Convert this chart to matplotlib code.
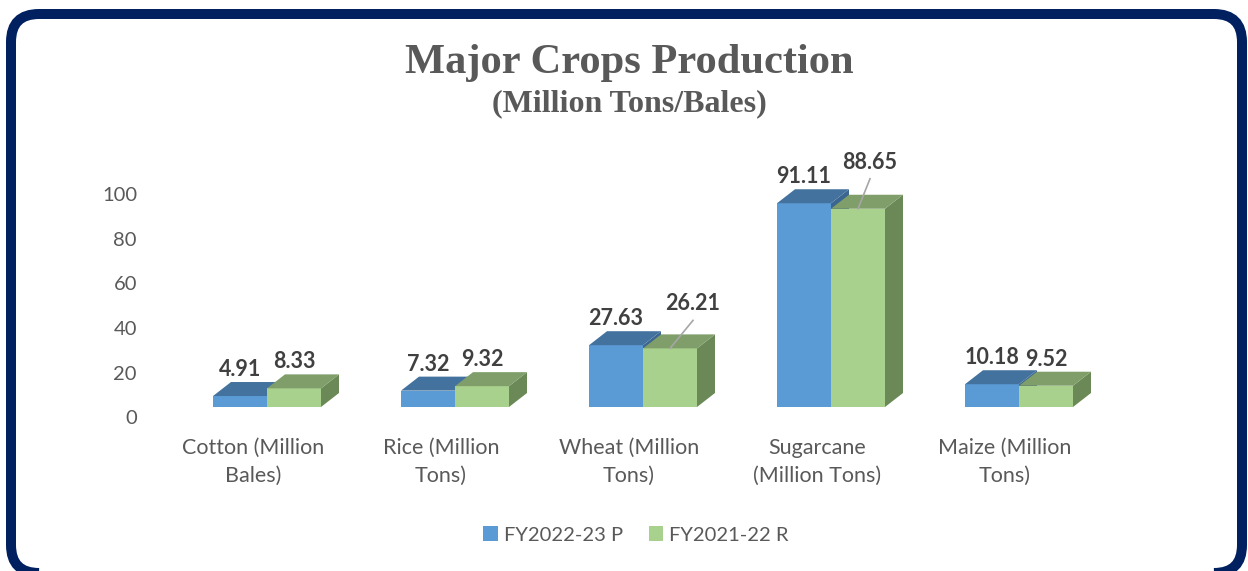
import matplotlib
matplotlib.use("Agg")
import matplotlib.pyplot as plt
from matplotlib.patches import Polygon, Rectangle, FancyBboxPatch, Patch
from matplotlib.transforms import IdentityTransform

crops = ["Cotton (Million\nBales)", "Rice (Million\nTons)", "Wheat (Million\nTons)",
         "Sugarcane\n(Million Tons)", "Maize (Million\nTons)"]
fy2023 = [4.91, 7.32, 27.63, 91.11, 10.18]
fy2022 = [8.33, 9.32, 26.21, 88.65, 9.52]
series_names = ["FY2022-23 P", "FY2021-22 R"]
yticks = [0, 20, 40, 60, 80, 100]

# colours of the faces: front, top, side
blue = ("#5B9BD5", "#44729E", "#3B6691")
green = ("#A9D18E", "#7F9E69", "#6B8957")
grey = "#595959"
dark = "#404040"

plt.rcParams['font.family'] = ['Lato', 'DejaVu Sans']

W, H = 1248, 571
fig = plt.figure(figsize=(W / 100, H / 100), dpi=100)
ax = fig.add_axes([173 / W, 164 / H, 940 / W, 246 / H])
ax.set_xlim(-0.5, 4.5)
ax.set_ylim(0, 110)
ax.axis("off")

# depth of the fake 3d bars, in pixels -> data units
px_x = 940 / 5.0
px_y = 246 / 110.0
ddx = 18 / px_x
ddy = 14 / px_y
bw = 54 / px_x


def bar3d(x0, h, cols):
    x1 = x0 + bw
    ax.add_patch(Rectangle((x0, 0), bw, h, facecolor=cols[0], edgecolor="none"))
    ax.add_patch(Polygon([(x1, 0), (x1 + ddx, ddy), (x1 + ddx, h + ddy), (x1, h)],
                         closed=True, facecolor=cols[2], edgecolor="none"))
    ax.add_patch(Polygon([(x0, h), (x1, h), (x1 + ddx, h + ddy), (x0 + ddx, h + ddy)],
                         closed=True, facecolor=cols[1], edgecolor="none"))


# label nudges (pixels) where Excel moved a label and drew a leader line
moved = {(1, 2): (23, 18), (1, 3): (12, 20)}

for i in range(len(crops)):
    for s, (vals, cols) in enumerate([(fy2023, blue), (fy2022, green)]):
        x0 = i - bw if s == 0 else i
        bar3d(x0, vals[i], cols)
    for s, vals in enumerate([fy2023, fy2022]):
        x0 = i - bw if s == 0 else i
        cx = x0 + bw / 2
        top = vals[i]
        off = moved.get((s, i), (0, 0))
        ax.annotate(f"{vals[i]:.2f}", (cx, top + ddy), xytext=(off[0], 6 + off[1]),
                    textcoords="offset pixels", ha="center", va="baseline",
                    fontsize=15.5, fontweight="bold", color=dark)
        if (s, i) in moved:
            # leader line from the label down to the bar top
            lx = cx + off[0] / px_x
            ly = top + ddy + (off[1] - 4) / px_y
            ax.plot([lx, cx], [ly, top], color="#A6A6A6", lw=1.2)
    ax.annotate(crops[i], (i, 0), xycoords=("data", "axes fraction"),
                xytext=(-14, -31), textcoords="offset pixels", ha="center", va="top",
                multialignment="center", fontsize=15.5, color=grey, linespacing=1.5)

for v in yticks:
    ax.annotate(str(v), (0, v), xycoords=("axes fraction", "data"),
                xytext=(-36, -12), textcoords="offset pixels", ha="right", va="center",
                fontsize=14.5, color=grey)

fig.text(629 / W, 1 - 63 / H, "Major Crops Production", ha="center", va="center",
         family="Liberation Serif", fontweight="bold", fontsize=30.6, color=grey)
fig.text(629 / W, 1 - 104 / H, "(Million Tons/Bales)", ha="center", va="center",
         family="Liberation Serif", fontweight="bold", fontsize=23, color=grey)

handles = [Patch(facecolor=blue[0], label=series_names[0]),
           Patch(facecolor=green[0], label=series_names[1])]
fig.legend(handles=handles, loc="center", bbox_to_anchor=(636 / W, 1 - 535 / H), ncol=2,
           frameon=False, fontsize=14.5, handlelength=0.7, handleheight=0.7,
           handletextpad=0.3, columnspacing=1.3, labelcolor=grey)

# rounded navy frame, runs off the right and bottom edges
frame = FancyBboxPatch((11, -2), 1231, 559, boxstyle="round,pad=0,rounding_size=28",
                       facecolor="none", edgecolor="#002060", lw=7.2,
                       transform=IdentityTransform())
fig.add_artist(frame)

fig.savefig("out.png", dpi=100)
